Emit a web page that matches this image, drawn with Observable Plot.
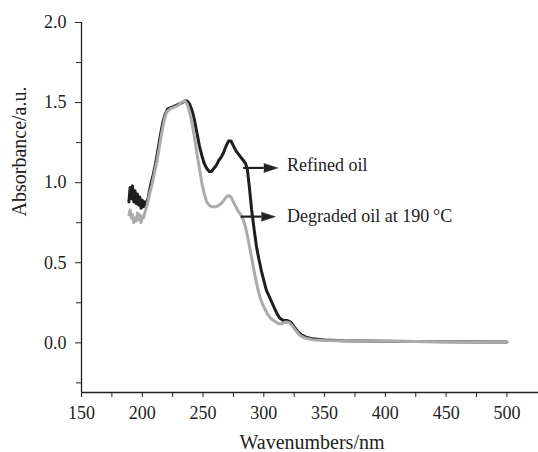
<!DOCTYPE html>
<html><head><meta charset="utf-8">
<script src="https://cdn.jsdelivr.net/npm/d3@7"></script>
<script src="https://cdn.jsdelivr.net/npm/@observablehq/plot@0.6"></script>
<style>body{margin:0;background:#fff} svg{display:block}</style>
</head><body><div id="chart"></div>
<script>
const refinedNm = [189,190,191,192,193,194,195,196,197,198,199,200,201,202,203,205,207,209,211,213,215,217,219,221,224,227,230,233,235,237,239,241,243,245,247,249,251,253,255,257,259,261,263,265,267,269,271,273,275,277,279,281,283,285,286.5,288,290,292,294,296,298,300,302,305,308,311,313,316,319,322,325,328,331,335,340,350,365,400,450,500];
const refinedAbs = [0.88,0.97,0.90,0.98,0.88,0.95,0.87,0.93,0.86,0.91,0.84,0.89,0.85,0.88,0.86,0.91,0.99,1.05,1.12,1.21,1.30,1.38,1.43,1.46,1.47,1.48,1.49,1.50,1.51,1.51,1.49,1.45,1.39,1.31,1.23,1.17,1.12,1.09,1.07,1.07,1.09,1.11,1.14,1.16,1.19,1.23,1.26,1.26,1.23,1.20,1.18,1.16,1.14,1.12,1.08,0.98,0.83,0.71,0.60,0.52,0.45,0.39,0.33,0.28,0.23,0.18,0.155,0.14,0.14,0.13,0.10,0.07,0.05,0.035,0.025,0.018,0.013,0.01,0.007,0.005];
const degradedNm = [189,190,191,192,193,194,195,196,197,198,199,200,201,202,204,206,208,210,212,214,216,218,220,223,226,229,232,235,237,239,241,243,245,247,249,251,253,255,257,259,261,263,265,267,269,271,273,275,277,279,281,283,285,287,289,291,293,295,297,299,301,303,306,309,312,315,318,321,324,327,330,334,340,350,370,400,450,500];
const degradedAbs = [0.80,0.83,0.78,0.80,0.75,0.78,0.76,0.81,0.77,0.80,0.75,0.79,0.78,0.81,0.86,0.93,0.99,1.06,1.13,1.22,1.31,1.39,1.44,1.46,1.47,1.48,1.50,1.51,1.49,1.44,1.37,1.28,1.18,1.09,1.00,0.93,0.88,0.86,0.85,0.85,0.85,0.86,0.87,0.89,0.91,0.92,0.91,0.88,0.85,0.82,0.80,0.77,0.72,0.65,0.57,0.49,0.41,0.34,0.28,0.24,0.21,0.18,0.15,0.135,0.12,0.12,0.13,0.125,0.10,0.07,0.045,0.03,0.02,0.015,0.012,0.01,0.007,0.005];

const xDomain = [150, 526];
const yDomain = [-0.31, 2.0];
const xTicks = [150,200,250,300,350,400,450,500];
const xMinorTicks = [175,225,275,325,375,425,475];
const yTicks = [0,0.5,1.0,1.5,2.0];
const yMinorTicks = [-0.25,0.25,0.75,1.25,1.75];

const labelNames = ["Refined oil", "Degraded oil at 190\u2009°C"];
const labelNm = [319, 319];
const labelAbs = [1.11, 0.79];
const arrowStartNm = [283, 281];
const arrowEndNm = [300, 298];
const arrowAbs = [1.092, 0.788];

const refined = refinedNm.map((x, i) => ({x, y: refinedAbs[i]}));
const degraded = degradedNm.map((x, i) => ({x, y: degradedAbs[i]}));
const notes = labelNames.map((t, i) => ({t, x: labelNm[i], y: labelAbs[i], x1: arrowStartNm[i], x2: arrowEndNm[i], ya: arrowAbs[i]}));

const ink = "#222";
const chart = Plot.plot({
  width: 538, height: 452,
  marginLeft: 81, marginRight: 0, marginTop: 22, marginBottom: 60,
  style: {fontFamily: "'Liberation Serif', 'Times New Roman', serif", fontSize: "18px", color: ink, background: "#fff"},
  x: {domain: xDomain},
  y: {domain: yDomain},
  marks: [
    Plot.axisX({ticks: xTicks, tickSize: 5, tickPadding: 9, label: null, stroke: ink}),
    Plot.axisX({ticks: xMinorTicks, tickSize: 5, tickFormat: () => "", label: null, stroke: ink}),
    Plot.axisY({ticks: yTicks, tickSize: 6, tickPadding: 9, tickFormat: d3.format(".1f"), label: null, stroke: ink}),
    Plot.axisY({ticks: yMinorTicks, tickSize: 5, tickFormat: () => "", label: null, stroke: ink}),
    Plot.ruleX([xDomain[0]], {stroke: ink, strokeWidth: 1.3}),
    Plot.ruleY([yDomain[0]], {stroke: ink, strokeWidth: 1.3}),
    Plot.text(["Wavenumbers/nm"], {frameAnchor: "bottom", dy: 56, dx: 2, lineAnchor: "bottom", fontSize: 20, fill: ink}),
    Plot.text(["Absorbance/a.u."], {frameAnchor: "left", rotate: -90, dx: -62, dy: 9, fontSize: 20, fill: ink}),
    Plot.line(refined, {x: "x", y: "y", stroke: "#1e1e1e", strokeWidth: 3, strokeLinejoin: "round"}),
    Plot.line(degraded, {x: "x", y: "y", stroke: "#ababab", strokeWidth: 3, strokeLinejoin: "round"}),
    Plot.link(notes, {x1: "x1", x2: "x2", y1: "ya", y2: "ya", stroke: ink, strokeWidth: 2.2}),
    Plot.vector(notes, {x: "x2", y: "ya", shape: "spike", anchor: "start", rotate: 90, length: 14, r: 4.5, fill: ink, stroke: ink, strokeWidth: 0.5}),
    Plot.text(notes, {x: "x", y: "y", text: "t", textAnchor: "start", fontSize: 18, fill: ink})
  ]
});
document.getElementById("chart").appendChild(chart);
</script>
</body></html>
